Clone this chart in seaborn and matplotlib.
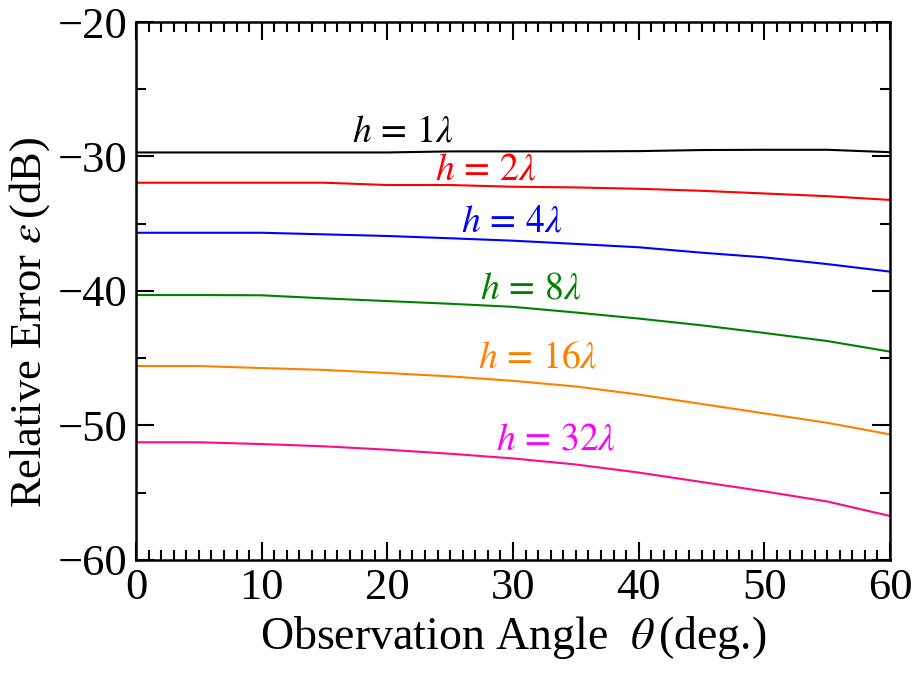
import numpy as np
import pandas as pd
import matplotlib
matplotlib.use("Agg")
import matplotlib.pyplot as plt
import seaborn as sns
from matplotlib.ticker import MultipleLocator

# Observation angle (deg.)
theta = [0, 5, 10, 15, 20, 25, 30, 35, 40, 45, 50, 55, 60]

# Relative error (dB) for each height h
err_h1 = [-29.70, -29.70, -29.70, -29.70, -29.70, -29.62, -29.62, -29.62, -29.60, -29.52, -29.50, -29.50, -29.68]
err_h2 = [-31.95, -31.95, -31.95, -31.95, -32.12, -32.12, -32.25, -32.30, -32.40, -32.55, -32.75, -32.95, -33.23]
err_h4 = [-35.67, -35.67, -35.67, -35.79, -35.91, -36.08, -36.26, -36.50, -36.75, -37.15, -37.50, -38.00, -38.56]
err_h8 = [-40.30, -40.30, -40.32, -40.55, -40.75, -40.95, -41.18, -41.60, -42.05, -42.55, -43.12, -43.72, -44.51]
err_h16 = [-45.58, -45.58, -45.73, -45.87, -46.10, -46.35, -46.68, -47.10, -47.70, -48.40, -49.10, -49.80, -50.66]
err_h32 = [-51.25, -51.25, -51.38, -51.55, -51.80, -52.10, -52.45, -52.90, -53.50, -54.20, -54.90, -55.65, -56.73]

series_names = ["h1", "h2", "h4", "h8", "h16", "h32"]
series_values = [err_h1, err_h2, err_h4, err_h8, err_h16, err_h32]
series_labels = [r"$h\,=\,1\lambda$", r"$h\,=\,2\lambda$", r"$h\,=\,4\lambda$",
                 r"$h\,=\,8\lambda$", r"$h\,=\,16\lambda$", r"$h\,=\,32\lambda$"]

line_colors = ["#000000", "#ff0000", "#0000ff", "#008000", "#ff8000", "#ff0a8c"]
label_colors = ["#000000", "#ff0000", "#0000ff", "#008000", "#ff8000", "#ff00ff"]
# label anchor (angle, dB)
label_pos = [(21.2, -28.2), (27.8, -31.0), (29.9, -34.9),
             (31.4, -39.9), (32.0, -45.0), (33.4, -51.1)]

df = pd.DataFrame({
    "theta": np.tile(theta, len(series_names)),
    "err": np.concatenate(series_values),
    "series": np.repeat(series_names, len(theta)),
})

sns.set_style("ticks")
plt.rcParams["font.family"] = ["Liberation Serif", "DejaVu Serif"]
plt.rcParams["mathtext.fontset"] = "stix"
plt.rcParams["text.color"] = "black"
plt.rcParams["axes.labelcolor"] = "black"

fig = plt.figure(figsize=(9.17, 6.75), dpi=100)
ax = fig.add_axes([0.1483, 0.1704, 0.8223, 0.7970])

sns.lineplot(data=df, x="theta", y="err", hue="series",
             palette=dict(zip(series_names, line_colors)),
             linewidth=1.5, legend=False, ax=ax)

for lab, col, (lx, ly) in zip(series_labels, label_colors, label_pos):
    ax.text(lx, ly, lab, color=col, fontsize=27, ha="center", va="center")

ax.set_xlim(0, 60)
ax.set_ylim(-60, -20)
ax.xaxis.set_major_locator(MultipleLocator(10))
ax.xaxis.set_minor_locator(MultipleLocator(1))
ax.yaxis.set_minor_locator(MultipleLocator(5))
ax.set_yticks([-60, -50, -40, -30, -20])
ax.set_yticklabels(["\u221260", "\u221250", "\u221240", "\u221230", "\u221220"])

ax.tick_params(which="both", direction="in", top=True, right=True, width=1.5, colors="black")
ax.tick_params(which="major", length=13, labelsize=32, pad=6)
ax.tick_params(which="minor", length=7)
for sp in ax.spines.values():
    sp.set_linewidth(1.8)
    sp.set_color("black")

ax.set_xlabel(r"Observation Angle  $\theta\,$(deg.)", fontsize=33, labelpad=4)
ax.set_ylabel(r"Relative Error $\varepsilon\,$(dB)", fontsize=32)
ax.yaxis.set_label_coords(-0.112, 0.442)

fig.savefig("out.png", dpi=100)
